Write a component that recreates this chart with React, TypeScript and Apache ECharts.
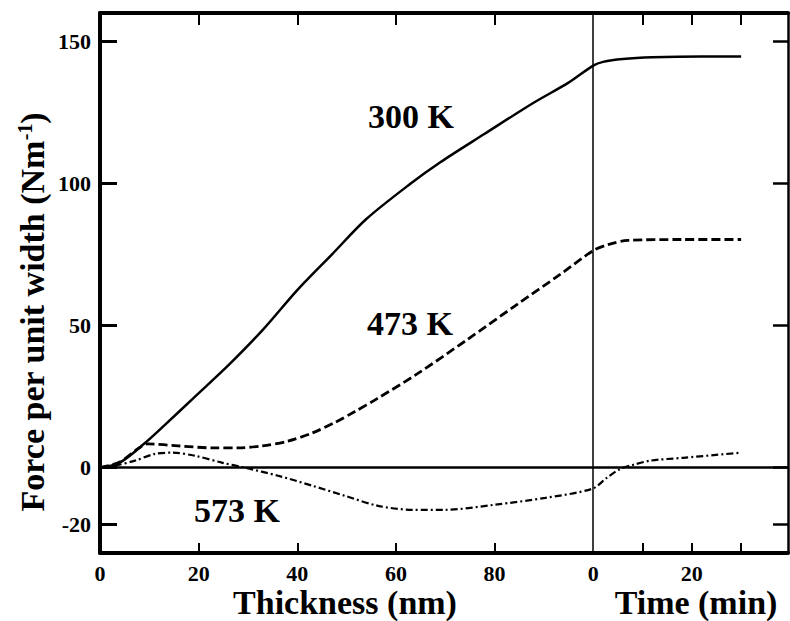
import React, { useEffect, useRef } from "react";
import * as echarts from "echarts";

// Combined abscissa: 0–100 = thickness (nm), 100+ = time (min) offset by 100
const x300 = [0, 4, 9, 13, 19, 26, 33, 40, 47, 54, 63, 69, 78, 88, 95, 100, 102, 106, 112, 122, 130];
const y300 = [0, 1.8, 8.5, 14.8, 24.6, 36, 48.5, 62.5, 75, 87.5, 100, 107.5, 117.5, 128.5, 135.5, 141.5, 142.8, 143.8, 144.4, 144.7, 144.7];

const x473 = [0, 4, 7.7, 9.7, 15.8, 22.7, 28, 32.8, 38, 43, 47.7, 51.7, 56.2, 64.3, 74.4, 84.6, 93.3, 100, 103, 107, 118, 130];
const y473 = [0, 2, 6.7, 8.4, 7.7, 7, 7, 7.7, 9.3, 12.2, 16, 19.8, 24.3, 33, 45, 57.5, 68, 76.4, 78.5, 80, 80.3, 80.3];

const x573 = [0, 3, 7.1, 11.2, 14.6, 19.3, 24.7, 29.4, 36.1, 43, 49.7, 56.4, 63.3, 70, 80.1, 90.3, 99.8, 102.8, 105.5, 108.1, 111.6, 118.3, 130];
const y573 = [0, 0.7, 2.5, 4.9, 5.3, 4.2, 1.8, 0, -2.8, -6.3, -9.9, -13.4, -14.8, -14.8, -13, -10.6, -7.4, -3.5, -0.4, 1, 2.5, 3.5, 5.3];

const xTickValues = [20, 40, 60, 80, 110, 120, 130];
const xLabelValues = [0, 20, 40, 60, 80, 100, 120];
const yTickValues = [-20, 0, 50, 100, 150];
const seriesLabels = ["300 K", "473 K", "573 K"];

const FONT = "'Liberation Serif', 'Times New Roman', serif";

const pairs = (xs: number[], ys: number[]) => xs.map((x, i) => [x, ys[i]]);

export default function App() {
  const ref = useRef<HTMLDivElement>(null);
  useEffect(() => {
    if (!ref.current) return;
    const chart = echarts.init(ref.current, null, { renderer: "svg" });
    const labelStyle = { fontFamily: FONT, fontWeight: "bold" as const, fontSize: 22, color: "#000" };
    chart.setOption({
      animation: false,
      backgroundColor: "#fff",
      grid: { left: 100, top: 13, width: 688, height: 540, containLabel: false },
      xAxis: [
        {
          type: "value", position: "bottom", min: 0, max: 139.5,
          axisLine: { show: true, onZero: false, lineStyle: { color: "#000", width: 4 } },
          axisTick: { show: true, inside: true, length: 10, customValues: xTickValues, lineStyle: { color: "#000", width: 2 } },
          axisLabel: { ...labelStyle, margin: 9, customValues: xLabelValues, formatter: (v: number) => String(v >= 100 ? v - 100 : v) },
          splitLine: { show: false },
        },
        {
          type: "value", position: "top", min: 0, max: 139.5,
          axisLine: { show: true, onZero: false, lineStyle: { color: "#000", width: 4 } },
          axisTick: { show: true, inside: true, length: 12, customValues: xTickValues, lineStyle: { color: "#000", width: 2 } },
          axisLabel: { show: false },
          splitLine: { show: false },
        },
      ],
      yAxis: [
        {
          type: "value", position: "left", min: -30, max: 160,
          axisLine: { show: true, onZero: false, lineStyle: { color: "#000", width: 4 } },
          axisTick: { show: true, inside: true, length: 17, customValues: yTickValues, lineStyle: { color: "#000", width: 3 } },
          axisLabel: { ...labelStyle, margin: 9, customValues: yTickValues },
          splitLine: { show: false },
        },
        {
          type: "value", position: "right", min: -30, max: 160,
          axisLine: { show: true, onZero: false, lineStyle: { color: "#000", width: 2.5 } },
          axisTick: { show: true, inside: true, length: 15, customValues: yTickValues, lineStyle: { color: "#000", width: 2.5 } },
          axisLabel: { show: false },
          splitLine: { show: false },
        },
      ],
      series: [
        {
          name: seriesLabels[0], type: "line", data: pairs(x300, y300), showSymbol: false, smooth: 0.3,
          lineStyle: { color: "#000", width: 2.5, type: "solid" },
          markLine: {
            silent: true, symbol: "none", label: { show: false },
            data: [
              { yAxis: 0, lineStyle: { color: "#000", width: 2.5, type: "solid" } },
              { xAxis: 100, lineStyle: { color: "#000", width: 1.5, type: "solid" } },
            ],
          },
        },
        {
          name: seriesLabels[1], type: "line", data: pairs(x473, y473), showSymbol: false, smooth: 0.3,
          lineStyle: { color: "#000", width: 2.8, type: [9, 4] },
        },
        {
          name: seriesLabels[2], type: "line", data: pairs(x573, y573), showSymbol: false, smooth: 0.3,
          lineStyle: { color: "#000", width: 2.2, type: [7, 3, 2, 3] },
        },
      ],
      graphic: [
        { type: "text", x: 411, y: 116, style: { text: seriesLabels[0], font: `bold 34px ${FONT}`, fill: "#000", align: "center", verticalAlign: "middle" } },
        { type: "text", x: 410, y: 323, style: { text: seriesLabels[1], font: `bold 34px ${FONT}`, fill: "#000", align: "center", verticalAlign: "middle" } },
        { type: "text", x: 237, y: 510, style: { text: seriesLabels[2], font: `bold 34px ${FONT}`, fill: "#000", align: "center", verticalAlign: "middle" } },
        { type: "text", x: 345, y: 602, style: { text: "Thickness (nm)", font: `bold 34px ${FONT}`, fill: "#000", align: "center", verticalAlign: "middle" } },
        { type: "text", x: 696, y: 602, style: { text: "Time (min)", font: `bold 34px ${FONT}`, fill: "#000", align: "center", verticalAlign: "middle" } },
        {
          type: "text", x: 32, y: 312, rotation: Math.PI / 2,
          style: {
            text: "{a|Force per unit width (Nm}{s|-1}{a|)}",
            align: "center", verticalAlign: "middle", fill: "#000",
            rich: {
              a: { fontFamily: FONT, fontWeight: "bold", fontSize: 34, fill: "#000" },
              s: { fontFamily: FONT, fontWeight: "bold", fontSize: 20, fill: "#000", verticalAlign: "top", padding: [0, 0, 14, 0] },
            },
          },
        },
      ],
    });
    return () => chart.dispose();
  }, []);
  return <div ref={ref} style={{ width: 790, height: 621, position: "absolute", left: 0, top: 0 }} />;
}
